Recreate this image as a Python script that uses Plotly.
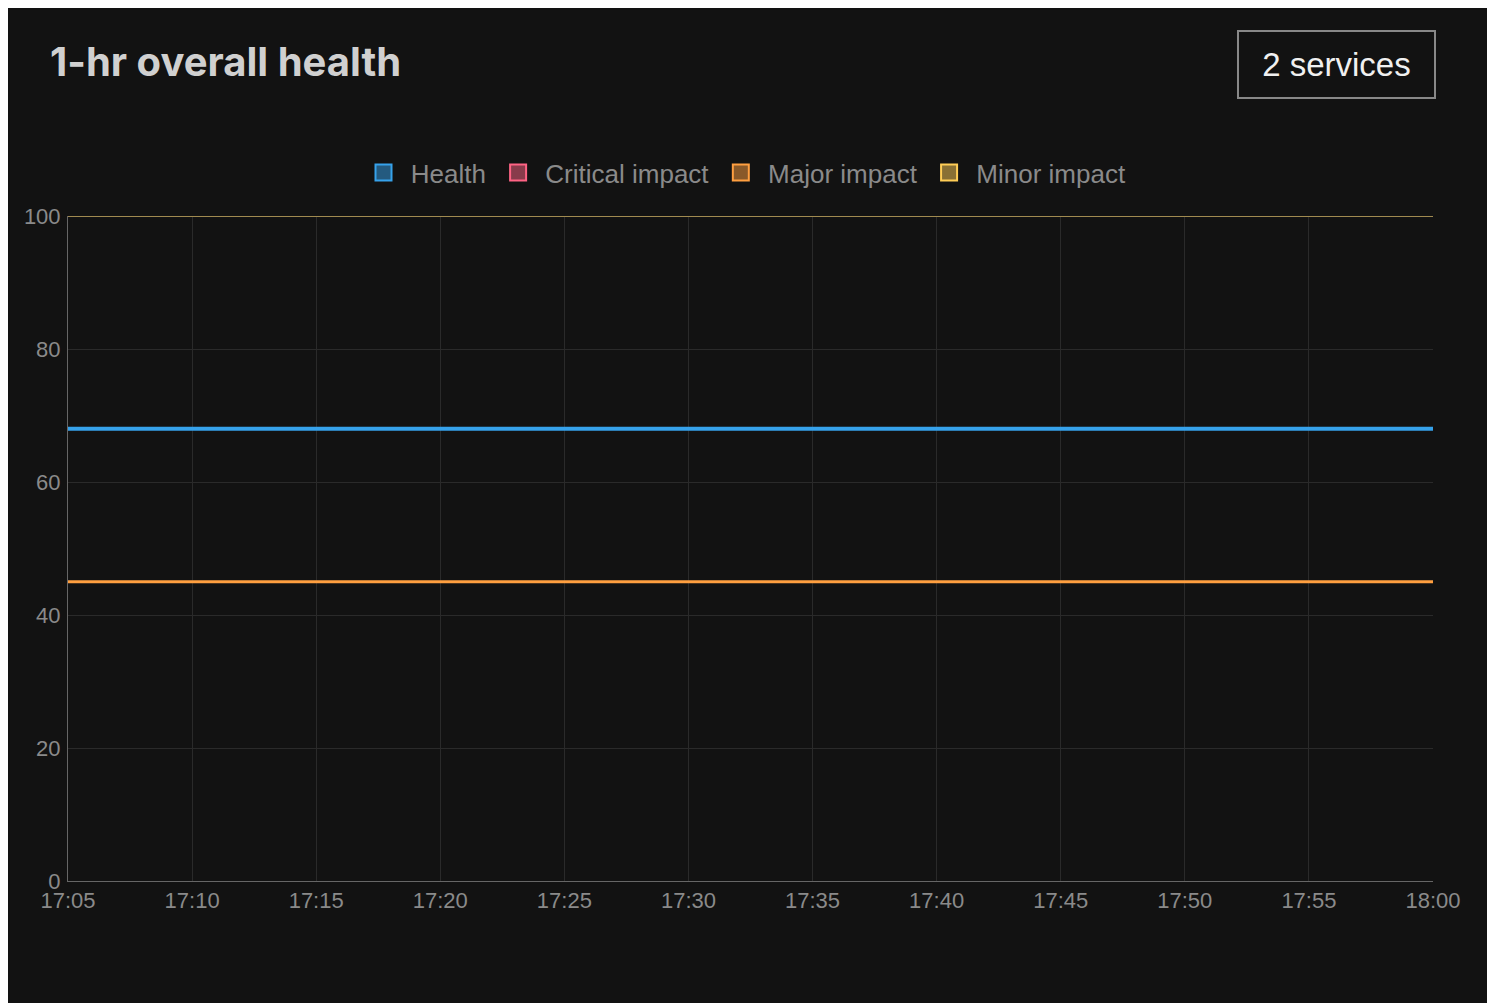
import plotly.graph_objects as go

times = ["2024-01-01 17:05", "2024-01-01 18:00"]
health = [68, 68]
critical = [0, 0]
major = [45, 45]
minor = [100, 100]

series = [
    ("Health", health, "#36a2eb", "rgba(54,162,235,0.5)", 4),
    ("Critical impact", critical, "#ff6384", "rgba(255,99,132,0.5)", 2),
    ("Major impact", major, "#ff9f40", "rgba(255,159,64,0.5)", 3),
    ("Minor impact", minor, "#ffcd56", "rgba(255,205,86,0.5)", 2),
]
tick_vals = ["2024-01-01 17:%02d" % m for m in range(5, 60, 5)] + ["2024-01-01 18:00"]
tick_text = ["17:%02d" % m for m in range(5, 60, 5)] + ["18:00"]

fig = go.Figure()
for name, vals, col, fill, w in series:
    line_col = "#a08a50" if name == "Minor impact" else col
    # critical sits at 0, hidden under the x axis line
    if name != "Critical impact":
        fig.add_trace(go.Scatter(x=times, y=vals, mode="lines", line=dict(color=line_col, width=w),
                                 showlegend=False, hoverinfo="skip"))
    fig.add_trace(go.Scatter(x=[None], y=[None], mode="markers", name=" " + name + " ",
                             marker=dict(symbol="square", size=16, color=fill, line=dict(color=col, width=2))))

pw, ph = 1495 - 60 - 70, 1003 - 208 - 130
fig.update_layout(
    width=1495, height=1003,
    paper_bgcolor="#121212", plot_bgcolor="#121212",
    margin=dict(l=60, r=70, t=208, b=130),
    font=dict(family="Liberation Sans, Arial", color="#8a8a8a", size=22),
    legend=dict(orientation="h", x=0.5, xanchor="center", y=1.03, yanchor="bottom",
                font=dict(size=26, color="#8a8a8a"), itemwidth=30),
    xaxis=dict(type="date", range=[times[0], times[1]], tickvals=tick_vals, ticktext=tick_text,
               showgrid=True, gridcolor="#2a2a2a", showline=True, linecolor="#666", ticks="",
               zeroline=False),
    yaxis=dict(range=[0, 100], dtick=20, showgrid=True, gridcolor="#2a2a2a", showline=True,
               linecolor="#666", zeroline=False, ticks="", ticklabelstandoff=2),
    annotations=[
        dict(text="<b>1-hr overall health</b>", x=(40 - 60) / pw, y=(873 - 53) / ph,
             xanchor="left", yanchor="middle", xref="paper", yref="paper",
             showarrow=False, font=dict(size=40, color="#d0d0d0", family="Inter, Liberation Sans")),
        dict(text=" 2 services ", x=(1428 - 60) / pw, y=(873 - 22) / ph, showarrow=False,
             font=dict(size=33, color="#f0f0f0"),
             xref="paper", yref="paper", xanchor="right", yanchor="top",
             bordercolor="#888", borderwidth=2, borderpad=14, bgcolor="#121212"),
    ],
)
fig.write_html("out.html")
